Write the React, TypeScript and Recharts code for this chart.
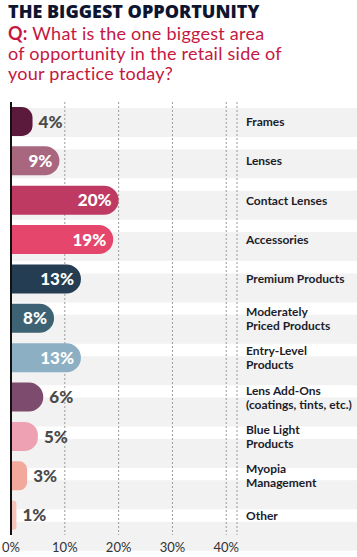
import { Bar, BarChart, CartesianGrid, Cell, LabelList, ReferenceLine, XAxis, YAxis } from "recharts";

const categories = [
  "Frames",
  "Lenses",
  "Contact Lenses",
  "Accessories",
  "Premium Products",
  "Moderately\nPriced Products",
  "Entry-Level\nProducts",
  "Lens Add-Ons\n(coatings, tints, etc.)",
  "Blue Light\nProducts",
  "Myopia\nManagement",
  "Other",
];
const shares = [4, 9, 20, 19, 13, 8, 13, 6, 5, 3, 1];
const barColors = [
  "#5b1a3c",
  "#a8667f",
  "#bf3a63",
  "#e4476b",
  "#243d52",
  "#3d6273",
  "#8cafc3",
  "#7d4b6d",
  "#eda1b3",
  "#f2a99c",
  "#f5c3b9",
];
const xTicks = [0, 10, 20, 30, 40];

const data = categories.map((name, i) => ({ name, value: shares[i] }));

const W = 357;
const H = 557;
const margin = { top: 102, right: 0, bottom: 0, left: 11 };
const FONT = "Lato, 'Open Sans', sans-serif";

function CategoryTick(props: any) {
  const { x, y, payload } = props;
  const lines = String(payload.value).split("\n");
  const start = -((lines.length - 1) * 14) / 2;
  return (
    <text x={x} y={y} textAnchor="start" fontFamily={FONT} fontWeight={700} fontSize={12} fill="#1c1c2a">
      {lines.map((l, i) => (
        <tspan key={i} x={x} y={y + start + i * 14} dy="0.36em">
          {l}
        </tspan>
      ))}
    </text>
  );
}

function ValueLabel(props: any) {
  const { x, y, width, height, value } = props;
  const inside = value >= 7;
  return (
    <text
      x={inside ? x + width - 7 : x + width + 6}
      y={y + height / 2}
      dy="0.36em"
      textAnchor={inside ? "end" : "start"}
      fontFamily={FONT}
      fontWeight={900}
      fontSize={17}
      fill={inside ? "#ffffff" : "#4a4a4a"}
    >
      {value}%
    </text>
  );
}

export default function App() {
  return (
    <div style={{ position: "absolute", left: 0, top: 0, width: W, height: H, background: "#fff", fontFamily: FONT }}>
      <div style={{ position: "absolute", left: 8, top: -1, fontFamily: "'Open Sans', sans-serif", fontWeight: 800, fontSize: 18, color: "#0e1530", letterSpacing: 0 }}>
        THE BIGGEST OPPORTUNITY
      </div>
      <div style={{ position: "absolute", left: 8, top: 23, width: 345, fontSize: 18, lineHeight: "20px", letterSpacing: 0.25, color: "#c5173f" }}>
        <b>Q:</b> What is the one biggest area
        <br />
        of opportunity in the retail side of
        <br />
        your practice today?
      </div>

      {/* bottom layer: gray row bands */}
      <div style={{ position: "absolute", left: 0, top: 0 }}>
        <BarChart width={W} height={H} data={data} layout="vertical" margin={margin} barSize={29}>
          <XAxis type="number" domain={[0, 42]} ticks={xTicks} height={22} hide />
          <YAxis type="category" dataKey="name" orientation="right" width={120} hide />
          <Bar dataKey="value" fill="transparent" background={{ fill: "#f2f2f2" }} isAnimationActive={false} />
        </BarChart>
      </div>

      {/* top layer: grid, bars, labels */}
      <div style={{ position: "absolute", left: 0, top: 0 }}>
        <BarChart width={W} height={H} data={data} layout="vertical" margin={margin} barSize={29}>
          <CartesianGrid horizontal={false} stroke="#9a9a9a" strokeDasharray="2 2" />
          <XAxis
            type="number"
            domain={[0, 42]}
            ticks={xTicks}
            height={22}
            axisLine={false}
            tickLine={false}
            tickFormatter={(v) => `${v}%`}
            tick={{ fontFamily: FONT, fontSize: 13, fill: "#333" }}
          />
          <YAxis
            type="category"
            dataKey="name"
            orientation="right"
            width={120}
            axisLine={false}
            tickLine={false}
            tickSize={0}
            tickMargin={9}
            interval={0}
            tick={<CategoryTick />}
          />
          <ReferenceLine x={0} stroke="#111" strokeWidth={2} />
          <Bar dataKey="value" radius={[0, 15, 15, 0]} isAnimationActive={false}>
            {data.map((d, i) => (
              <Cell key={d.name} fill={barColors[i]} />
            ))}
            <LabelList dataKey="value" content={<ValueLabel />} />
          </Bar>
        </BarChart>
      </div>
    </div>
  );
}
